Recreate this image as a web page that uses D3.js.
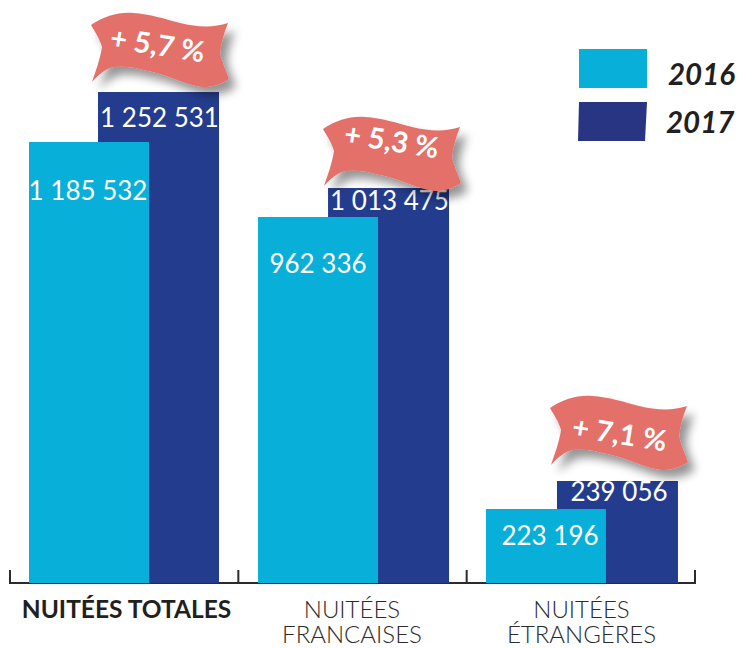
<!DOCTYPE html>
<html><head><meta charset="utf-8">
<script src="https://cdn.jsdelivr.net/npm/d3@7/dist/d3.min.js"></script>
<style>html,body{margin:0;padding:0;background:#fff}svg{display:block;font-family:Lato,"Open Sans",sans-serif}</style>
</head><body><svg id="c" width="738" height="648"></svg>
<script>
const categories = ["NUITÉES TOTALES", "NUITÉES FRANCAISES", "NUITÉES ÉTRANGÈRES"];
const series = ["2016", "2017"];
const values2016 = [1185532, 962336, 223196];
const values2017 = [1252531, 1013475, 239056];
// The source does not draw its bars in proportion to the printed figures:
const drawnLevels2016 = [1185532, 983900, 198900];
const drawnLevels2017 = [1319900, 1061800, 274200];
const changes = ["+ 5,7 %", "+ 5,3 %", "+ 7,1 %"];
const colors = ["#08afd8", "#243c8d"];
const fmt = v => String(v).replace(/\B(?=(\d{3})+$)/g, " ");

const svg = d3.select("#c");
const x = d3.scaleBand().domain(categories).range([10, 695]);
const y = d3.scaleLinear().domain([0, 1185532]).range([583, 142]);
const offset2016 = [19, 19.7, 19.3];
const offset2017 = [88, 89.7, 90.3];
const defs = svg.append("defs");
const f = defs.append("filter").attr("id","sh").attr("x","-20%").attr("y","-20%").attr("width","150%").attr("height","150%");
f.append("feGaussianBlur").attr("in","SourceAlpha").attr("stdDeviation",5).attr("result","b");
f.append("feOffset").attr("in","b").attr("dx",7).attr("dy",8).attr("result","o");
f.append("feComponentTransfer").attr("in","o").attr("result","t").append("feFuncA").attr("type","linear").attr("slope",0.42);
const m = f.append("feMerge"); m.append("feMergeNode").attr("in","t"); m.append("feMergeNode").attr("in","SourceGraphic");

// axis
const axisG = svg.append("g").attr("stroke","#2b2a2c").attr("stroke-width",2).attr("fill","none");
axisG.append("line").attr("x1",x.range()[0]).attr("x2",x.range()[1]).attr("y1",y(0)).attr("y2",y(0));
[...categories.map(c=>x(c)), x.range()[1]].forEach(t=>{
  axisG.append("line").attr("x1",t).attr("x2",t).attr("y1",y(0)+1).attr("y2",y(0)-13);
});

// bars: 2017 behind 2016
const g = svg.append("g");
g.selectAll(".b17").data(categories).join("rect").attr("class","b17")
 .attr("x",(c,i)=>x(c)+offset2017[i]).attr("width",121)
 .attr("y",(c,i)=>y(drawnLevels2017[i])).attr("height",(c,i)=>y(0)-y(drawnLevels2017[i]))
 .attr("fill",colors[1]);
g.selectAll(".b16").data(categories).join("rect").attr("class","b16")
 .attr("x",(c,i)=>x(c)+offset2016[i]).attr("width",120)
 .attr("y",(c,i)=>y(drawnLevels2016[i])).attr("height",(c,i)=>y(0)-y(drawnLevels2016[i]))
 .attr("fill",colors[0]);

// value labels
const labelStyle = s => s.attr("fill","#fff").attr("font-size",26).attr("text-anchor","middle");
const label16x = [88, 318, 550], label16y = [200, 273, 545];
const label17x = [159.5, 389.5, 619], label17y = [127, 210, 501];
categories.forEach((c,i)=>{
  svg.append("text").call(labelStyle).attr("x",label16x[i]).attr("y",label16y[i]).text(fmt(values2016[i]));
  svg.append("text").call(labelStyle).attr("x",label17x[i]).attr("y",label17y[i]).text(fmt(values2017[i]));
});

// ribbons
const flagPath = "M91,25 C105,16 118,12 133,13 C150,14 165,19 180,23 C197,27 213,28 228,23 C224,33 221,43 220,53 C222,62 226,71 229,79 C220,85 212,87 203,87 C186,85 170,76 153,72 C140,69 126,65 113,67 C105,69 98,75 92,82 C96,70 100,60 102,47 C100,39 95,32 91,25 Z";
const flagOffsets = [[0,0],[232,104],[459,383]];
const flagText = [[156,55],[158,47],[159,61]];
changes.forEach((t,i)=>{
  const fg = svg.append("g").attr("transform",`translate(${flagOffsets[i]})`);
  fg.append("path").attr("d",flagPath).attr("fill","#e46f6b").attr("filter","url(#sh)");
  fg.append("text").attr("transform",`translate(${flagText[i]}) rotate(9)`).attr("text-anchor","middle")
    .attr("fill","#fff").attr("font-size",29).attr("font-weight",700).text(t);
});

// legend
svg.append("rect").attr("x",579).attr("y",49).attr("width",68).attr("height",39).attr("fill",colors[0]);
svg.append("path").attr("d","M579,102 L647,102 L645,141 L578,141 Z").attr("fill","#283583");
svg.append("text").attr("x",668).attr("y",85).attr("font-size",29.5).attr("font-weight",700).attr("font-style","italic").attr("fill","#231f20").text(series[0]);
svg.append("text").attr("x",666).attr("y",133).attr("font-size",29.5).attr("font-weight",700).attr("font-style","italic").attr("fill","#231f20").text(series[1]);

// category labels
const cx = [126.5, 352, 581.5];
svg.append("text").attr("x",cx[0]).attr("y",618).attr("text-anchor","middle").attr("font-size",24.5).attr("font-weight",700).attr("fill","#231f20").text(categories[0]);
[1,2].forEach(i=>{
  const parts = categories[i].split(" ");
  parts.forEach((p,k)=>svg.append("text").attr("x",cx[i]).attr("y",618+k*25).attr("text-anchor","middle").attr("font-size",24).attr("font-weight",300).attr("fill","#2b2a2c").text(p));
});
</script></body></html>
